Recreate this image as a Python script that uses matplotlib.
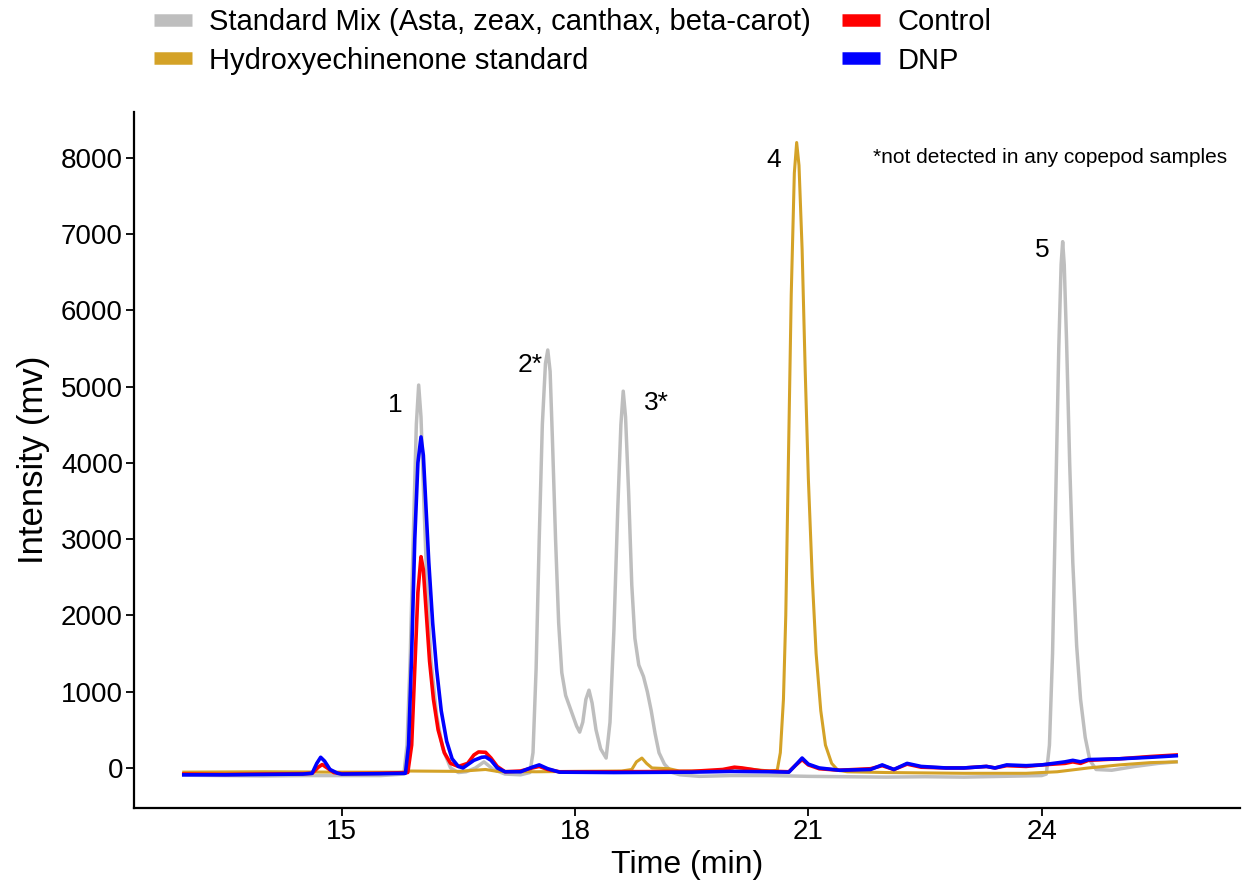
import matplotlib
matplotlib.use("Agg")
import matplotlib.pyplot as plt
from matplotlib.lines import Line2D

plt.rcParams['font.family'] = ['Liberation Sans', 'DejaVu Sans']

# ── data (time in min, intensity in mv) ───────────────────────────────────────
mix_t = [12.97, 13.5, 14.0, 14.5, 15.0, 15.5, 15.8, 15.84, 15.88, 15.92, 15.96,
         15.99, 16.02, 16.06, 16.1, 16.15, 16.22, 16.3, 16.4, 16.5, 16.6, 16.72,
         16.83, 16.95, 17.1, 17.3, 17.42, 17.46, 17.5, 17.54, 17.58, 17.62,
         17.65, 17.68, 17.71, 17.75, 17.79, 17.83, 17.88, 17.95, 18.02, 18.06,
         18.1, 18.14, 18.18, 18.22, 18.27, 18.33, 18.4, 18.45, 18.5, 18.55,
         18.59, 18.62, 18.65, 18.69, 18.73, 18.77, 18.82, 18.88, 18.93, 18.98,
         19.03, 19.08, 19.15, 19.25, 19.35, 19.6, 20.0, 20.5, 21.0, 22.0, 22.5,
         23.0, 23.5, 24.0, 24.06, 24.1, 24.14, 24.18, 24.22, 24.25, 24.27,
         24.29, 24.32, 24.36, 24.4, 24.45, 24.5, 24.56, 24.62, 24.7, 24.9,
         25.2, 25.5, 25.73]
mix_v = [-95, -100, -105, -100, -100, -100, -80, 300, 1400, 3000, 4500,
         5020, 4600, 3400, 2300, 1400, 700, 250, 0, -60, -50, 0,
         80, -20, -80, -90, -60, 200, 1300, 3000, 4500, 5300,
         5480, 5200, 4300, 3000, 1900, 1250, 950, 750, 550, 470,
         600, 900, 1020, 850, 500, 250, 130, 600, 1800, 3400,
         4500, 4940, 4600, 3600, 2400, 1700, 1350, 1200, 1000, 750,
         450, 200, 50, -60, -90, -110, -100, -100, -110, -120, -115,
         -120, -110, -100, -80, 300, 1500, 3500, 5500, 6600, 6900,
         6600, 5600, 4000, 2700, 1600, 900, 400, 100, -20, -30,
         20, 60, 80]

hyd_t = [12.97, 14.0, 15.0, 15.8, 15.85, 16.5, 16.85, 17.0, 17.5, 18.0, 18.6,
         18.73, 18.79, 18.86, 18.92, 18.99, 19.21, 19.34, 19.9, 20.05, 20.2,
         20.5, 20.6, 20.64, 20.68, 20.71, 20.74, 20.78, 20.82, 20.85, 20.88,
         20.92, 20.96, 21.0, 21.05, 21.1, 21.16, 21.22, 21.3, 21.38, 21.5,
         22.0, 23.0, 23.8, 24.2, 24.6, 25.0, 25.4, 25.73]
hyd_v = [-55, -50, -55, -55, -40, -45, -20, -45, -50, -45, -40,
         -20, 80, 130, 60, 0, -10, -40, -40, 0, -10,
         -40, -30, 200, 900, 2000, 3800, 6200, 7800, 8200, 7900,
         6800, 5200, 3800, 2500, 1500, 750, 300, 60, -30, -50,
         -60, -70, -70, -50, 0, 40, 70, 80]

ctl_t = [12.97, 13.5, 14.0, 14.5, 14.62, 14.7, 14.75, 14.8, 14.9, 15.0, 15.5,
         15.85, 15.9, 15.94, 15.98, 16.02, 16.05, 16.09, 16.13, 16.18, 16.24,
         16.32, 16.4, 16.5, 16.62, 16.7, 16.76, 16.85, 16.92, 17.0, 17.1,
         17.3, 17.45, 17.54, 17.65, 17.8, 18.5, 19.5, 19.9, 20.05, 20.15,
         20.4, 20.75, 20.83, 20.92, 21.0, 21.14, 21.4, 21.8, 21.95, 22.1,
         22.27, 22.45, 22.77, 23.0, 23.29, 23.4, 23.55, 23.8, 24.0, 24.3,
         24.4, 24.5, 24.6, 25.0, 25.4, 25.73]
ctl_v = [-80, -85, -80, -75, -70, 10, 45, 10, -60, -75, -70,
         -60, 300, 1300, 2300, 2770, 2600, 2000, 1400, 900, 500,
         200, 60, 20, 60, 170, 210, 205, 130, 20, -50,
         -40, 0, 20, -20, -50, -50, -45, -20, 10, 0,
         -40, -50, 30, 110, 40, -10, -30, -10, 30, -20,
         50, 10, 0, 0, 20, 0, 30, 20, 40, 60,
         80, 60, 100, 120, 150, 170]

dnp_t = [12.97, 13.5, 14.0, 14.5, 14.62, 14.68, 14.73, 14.78, 14.85, 14.95,
         15.0, 15.5, 15.82, 15.86, 15.9, 15.94, 15.98, 16.02, 16.05, 16.08,
         16.12, 16.17, 16.22, 16.28, 16.35, 16.42, 16.5, 16.56, 16.7, 16.8,
         16.85, 16.92, 17.0, 17.1, 17.3, 17.45, 17.54, 17.65, 17.8, 18.5,
         19.5, 20.0, 20.5, 20.75, 20.83, 20.92, 21.0, 21.14, 21.4, 21.8,
         21.95, 22.1, 22.27, 22.45, 22.77, 23.0, 23.29, 23.4, 23.55, 23.8,
         24.0, 24.3, 24.4, 24.5, 24.6, 25.0, 25.4, 25.73]
dnp_v = [-90, -90, -85, -80, -70, 60, 140, 90, -20, -70,
         -80, -75, -70, 300, 1500, 3000, 4000, 4340, 4100, 3500,
         2700, 1900, 1300, 750, 350, 120, 20, 0, 100, 140,
         145, 100, 0, -50, -50, 10, 40, -10, -55, -60,
         -55, -45, -50, -55, 30, 130, 50, 0, -30, -20,
         40, -20, 60, 20, 0, 0, 20, 0, 40, 30,
         40, 80, 100, 80, 110, 120, 140, 160]

SERIES = ['Standard Mix (Asta, zeax, canthax, beta-carot)', 'Hydroxyechinenone standard',
          'Control', 'DNP']
COLORS = ['#BEBEBE', '#D4A227', '#FF0000', '#0000FF']

peak_labels = ['1', '2*', '3*', '4', '5']
peak_label_t = [15.69, 17.43, 19.05, 20.56, 24.01]
peak_label_v = [4760, 5280, 4790, 7970, 6790]

# ── figure ───────────────────────────────────────────────────────────────────
fig = plt.figure(figsize=(12.58, 8.96), dpi=100)
ax = fig.add_axes([134 / 1258, 1 - 808 / 896, (1240 - 134) / 1258, (808 - 112) / 896])

ax.plot(mix_t, mix_v, color=COLORS[0], lw=2.5)
ax.plot(hyd_t, hyd_v, color=COLORS[1], lw=2.2)
ax.plot(ctl_t, ctl_v, color=COLORS[2], lw=2.6)
ax.plot(dnp_t, dnp_v, color=COLORS[3], lw=2.6)

ax.set_xlim(12.33, 26.55)
ax.set_ylim(-525, 8600)
ax.set_xticks([15, 18, 21, 24])
ax.set_yticks(range(0, 8001, 1000))

for s in ('top', 'right'):
    ax.spines[s].set_visible(False)
for s in ('left', 'bottom'):
    ax.spines[s].set_linewidth(1.6)
ax.tick_params(length=6, width=1.3, labelsize=20, colors='black', pad=2)

ax.set_xlabel('Time (min)', fontsize=23)
ax.set_ylabel('Intensity (mv)', fontsize=25)
ax.xaxis.set_label_coords(0.5, -0.06)
ax.yaxis.set_label_coords(-0.076, 0.5)

for lab, t, v in zip(peak_labels, peak_label_t, peak_label_v):
    ax.text(t, v, lab, fontsize=19, ha='center', va='center')
ax.text(24.11, 8000, '*not detected in any copepod samples', fontsize=15,
        ha='center', va='center')

handles = [Line2D([0], [0], color=c, lw=9, solid_capstyle='butt') for c in COLORS]
fig.legend(handles, SERIES, loc='upper left', bbox_to_anchor=(0.1015, 1.02), ncol=2,
           frameon=False, fontsize=21, handlelength=1.3, handletextpad=0.6,
           columnspacing=1.05, labelspacing=0.35)

fig.savefig('out.png', dpi=100, facecolor='white')
